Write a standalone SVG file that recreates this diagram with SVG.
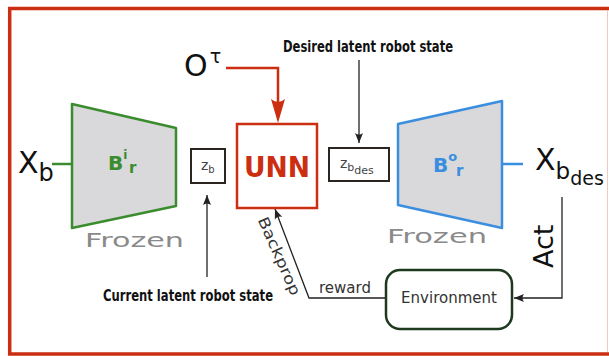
<svg xmlns="http://www.w3.org/2000/svg" width="609" height="356" viewBox="0 0 609 356">
<style>
text { font-family: "DejaVu Sans", "Liberation Sans", sans-serif; }
.big { font-size: 30px; fill: #111; }
.frozen { font-size: 19px; fill: #8a8a8a; }
.note { font-family: "DejaVu Sans Condensed", "Liberation Sans Narrow", "Liberation Sans", sans-serif; font-weight: bold; font-size: 16px; fill: #111; }
.small { font-size: 15px; fill: #333; }
.box { fill: #fff; stroke: #2a2520; stroke-width: 2; }
.trap { fill: #d9d8da; stroke-width: 2.5; stroke-linejoin: round; }
.conn { fill: none; stroke: #222; stroke-width: 1.3; }
</style>
<defs>
<marker id="ah" markerWidth="12" markerHeight="10" viewBox="-11 -5 12 10" refX="0" refY="0" orient="auto" markerUnits="userSpaceOnUse">
<path d="M0,0 L-10,-4 Q-7,0 -10,4 Z" fill="#222"/>
</marker>
</defs>

<g id="frame">
<path d="M609,8.5 H9.7 V354 H609" fill="none" stroke="#cc2e12" stroke-width="3.5"/>
<line x1="607.5" y1="10" x2="607.5" y2="352" stroke="#f2c8c0" stroke-width="1"/>
</g>

<g id="connectors">
<path d="M226,68 H278 V104" fill="none" stroke="#cc2e12" stroke-width="2.5"/>
<path d="M278,123 L271,99 Q278,105 285,99 Z" fill="#cc2e12"/>
<line x1="52" y1="164" x2="72" y2="164" stroke="#3a8c2e" stroke-width="2.5"/>
<line x1="502" y1="164" x2="523" y2="164" stroke="#3a8ee0" stroke-width="2.5"/>
<path class="conn" d="M359,60 V143" marker-end="url(#ah)"/>
<path class="conn" d="M207,277 V195" marker-end="url(#ah)"/>
<path class="conn" d="M562,197 V298 H514" marker-end="url(#ah)"/>
<path class="conn" d="M386,298 H309 L275,209" marker-end="url(#ah)"/>
</g>

<g id="input-xb">
<text class="big" x="18" y="173">X<tspan font-size="24" dy="8">b</tspan></text>
</g>

<g id="encoder">
<polygon class="trap" points="72,104 176,128 176,206 72,228" stroke="#3a8c2e"/>
<text x="108" y="170" font-weight="bold" font-size="20" fill="#3a8c2e">B<tspan font-size="12" dy="-11">i</tspan></text>
<text x="129" y="173" font-weight="bold" font-size="15" fill="#3a8c2e">r</text>
<text class="frozen" x="85" y="247" textLength="99" lengthAdjust="spacingAndGlyphs">Frozen</text>
</g>

<g id="zb">
<rect class="box" x="191" y="149" width="34" height="34"/>
<text x="201" y="170" font-size="14" fill="#444">z<tspan font-size="10" dy="3">b</tspan></text>
</g>

<g id="unn">
<rect x="237" y="124" width="80" height="84" fill="#fff" stroke="#cc2e12" stroke-width="2.5"/>
<text x="277" y="177" text-anchor="middle" font-weight="bold" font-size="28" fill="#cc2e12" textLength="66" lengthAdjust="spacingAndGlyphs">UNN</text>
</g>

<g id="zbdes">
<rect class="box" x="329" y="148" width="60" height="33"/>
<text x="340" y="168" font-size="14" fill="#444">z<tspan font-size="11" dy="3">b</tspan><tspan font-size="11" dy="3">des</tspan></text>
</g>

<g id="decoder">
<polygon class="trap" points="398,124 502,101 502,228 398,205" stroke="#3a8ee0"/>
<text x="433" y="172" font-weight="bold" font-size="20" fill="#3a8ee0">B<tspan font-size="13" dy="-11">o</tspan></text>
<text x="456" y="176" font-weight="bold" font-size="15" fill="#3a8ee0">r</text>
<text class="frozen" x="387" y="243" textLength="100" lengthAdjust="spacingAndGlyphs">Frozen</text>
</g>

<g id="output-xbdes">
<text class="big" x="535" y="170">X<tspan font-size="23" dy="9">b</tspan><tspan font-size="19" dy="6">des</tspan></text>
</g>

<g id="observation">
<text class="big" x="184" y="76">O<tspan font-size="19" dy="-13" dx="2">τ</tspan></text>
</g>

<g id="environment">
<rect x="386" y="270" width="126" height="59" rx="14" ry="14" fill="#fff" stroke="#1e3a1e" stroke-width="2.5"/>
<text class="small" x="449" y="303" text-anchor="middle">Environment</text>
</g>

<g id="labels">
<text class="note" x="283" y="52" textLength="170" lengthAdjust="spacingAndGlyphs">Desired latent robot state</text>
<text class="note" x="103" y="301" textLength="170" lengthAdjust="spacingAndGlyphs">Current latent robot state</text>
<text class="small" x="319" y="293">reward</text>
<text class="small" x="257.5" y="219.8" font-size="16" transform="rotate(66 257.5 219.8)" textLength="84" lengthAdjust="spacingAndGlyphs">Backprop</text>
<text x="553" y="268" font-size="27" fill="#111" transform="rotate(-90 553 268)">Act</text>
</g>
</svg>
